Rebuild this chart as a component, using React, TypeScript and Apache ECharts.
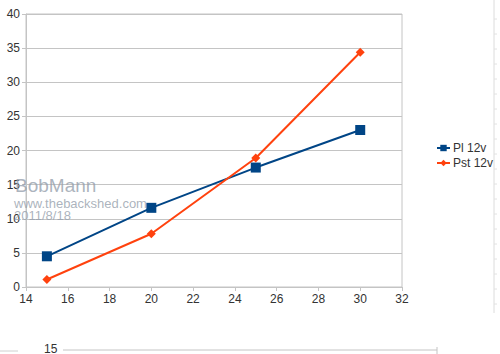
import React, { useEffect, useRef } from "react";
import * as echarts from "echarts";

const xValues = [15, 20, 25, 30];
const plValues = [4.5, 11.6, 17.5, 23.0];
const pstValues = [1.1, 7.8, 18.9, 34.4];
const seriesNames = ["Pl 12v", "Pst 12v"];
const watermark = ["BobMann", "www.thebackshed.com", "2011/8/18"];

export default function App() {
  const ref = useRef<HTMLDivElement>(null);
  useEffect(() => {
    if (!ref.current) return;
    const chart = echarts.init(ref.current, null, { renderer: "svg" });
    const font = "'Liberation Sans', Arial, sans-serif";
    const rightTicks: any[] = [];
    for (let y = 19; y <= 306; y += 15) {
      rightTicks.push({
        type: "line",
        shape: { x1: 494, y1: y, x2: 497, y2: y },
        style: { stroke: "#e2e2e2", lineWidth: 1 },
        silent: true,
      });
    }
    const wm = "rgba(150,160,172,0.8)";
    chart.setOption({
      animation: false,
      backgroundColor: "#ffffff",
      grid: {
        left: 26,
        right: 98,
        top: 14,
        bottom: 67,
        show: true,
        borderColor: "#c4c4c4",
        borderWidth: 1,
      },
      xAxis: {
        type: "value",
        min: 14,
        max: 32,
        interval: 2,
        axisLine: { show: true, lineStyle: { color: "#c4c4c4", width: 1 } },
        axisTick: { show: true, length: 4, lineStyle: { color: "#c4c4c4" } },
        axisLabel: { color: "#333", fontSize: 12, fontFamily: font, margin: 6 },
        splitLine: { show: false },
      },
      yAxis: {
        type: "value",
        min: 0,
        max: 40,
        interval: 5,
        axisLine: { show: true, lineStyle: { color: "#c4c4c4", width: 1 } },
        axisTick: { show: true, length: 4, lineStyle: { color: "#c4c4c4" } },
        axisLabel: { color: "#333", fontSize: 12, fontFamily: font, margin: 6 },
        splitLine: { show: true, lineStyle: { color: "#c4c4c4", width: 1 } },
      },
      legend: {
        orient: "vertical",
        left: 431,
        top: 137,
        itemWidth: 13,
        itemHeight: 8,
        itemGap: 3,
        textStyle: { color: "#333", fontSize: 12, fontFamily: font, padding: [0, 0, 0, -2] },
        data: seriesNames,
      },
      series: [
        {
          name: seriesNames[0],
          type: "line",
          data: xValues.map((x, i) => [x, plValues[i]]),
          symbol: "rect",
          symbolSize: 10,
          color: "#004586",
          lineStyle: { color: "#004586", width: 2 },
          itemStyle: { color: "#004586" },
        },
        {
          name: seriesNames[1],
          type: "line",
          data: xValues.map((x, i) => [x, pstValues[i]]),
          symbol: "diamond",
          symbolSize: 9,
          color: "#ff420e",
          lineStyle: { color: "#ff420e", width: 2 },
          itemStyle: { color: "#ff420e" },
        },
      ],
      graphic: [
        {
          type: "text",
          left: 15,
          top: 176,
          z: 100,
          style: { text: watermark[0], fill: wm, font: "19px " + font },
        },
        {
          type: "text",
          left: 14,
          top: 197,
          z: 100,
          style: { text: watermark[1], fill: wm, font: "13px " + font },
        },
        {
          type: "text",
          left: 14,
          top: 209,
          z: 100,
          style: { text: watermark[2], fill: wm, font: "13px " + font },
        },
        {
          type: "line",
          shape: { x1: 494, y1: 0, x2: 494, y2: 313 },
          style: { stroke: "#dcdcdc", lineWidth: 1 },
          silent: true,
        },
        ...rightTicks,
        {
          type: "text",
          left: 44,
          top: 343,
          style: { text: "15", fill: "#333", font: "12px " + font },
        },
        {
          type: "line",
          shape: { x1: 63, y1: 350, x2: 437, y2: 350 },
          style: { stroke: "#c4c4c4", lineWidth: 1 },
          silent: true,
        },
        {
          type: "line",
          shape: { x1: 437, y1: 347, x2: 437, y2: 354 },
          style: { stroke: "#c4c4c4", lineWidth: 1 },
          silent: true,
        },
        {
          type: "line",
          shape: { x1: 0, y1: 351, x2: 18, y2: 351 },
          style: { stroke: "#d0d0d0", lineWidth: 1 },
          silent: true,
        },
      ],
    });
    return () => chart.dispose();
  }, []);
  return <div ref={ref} style={{ width: 500, height: 354, position: "absolute", left: 0, top: 0 }} />;
}
